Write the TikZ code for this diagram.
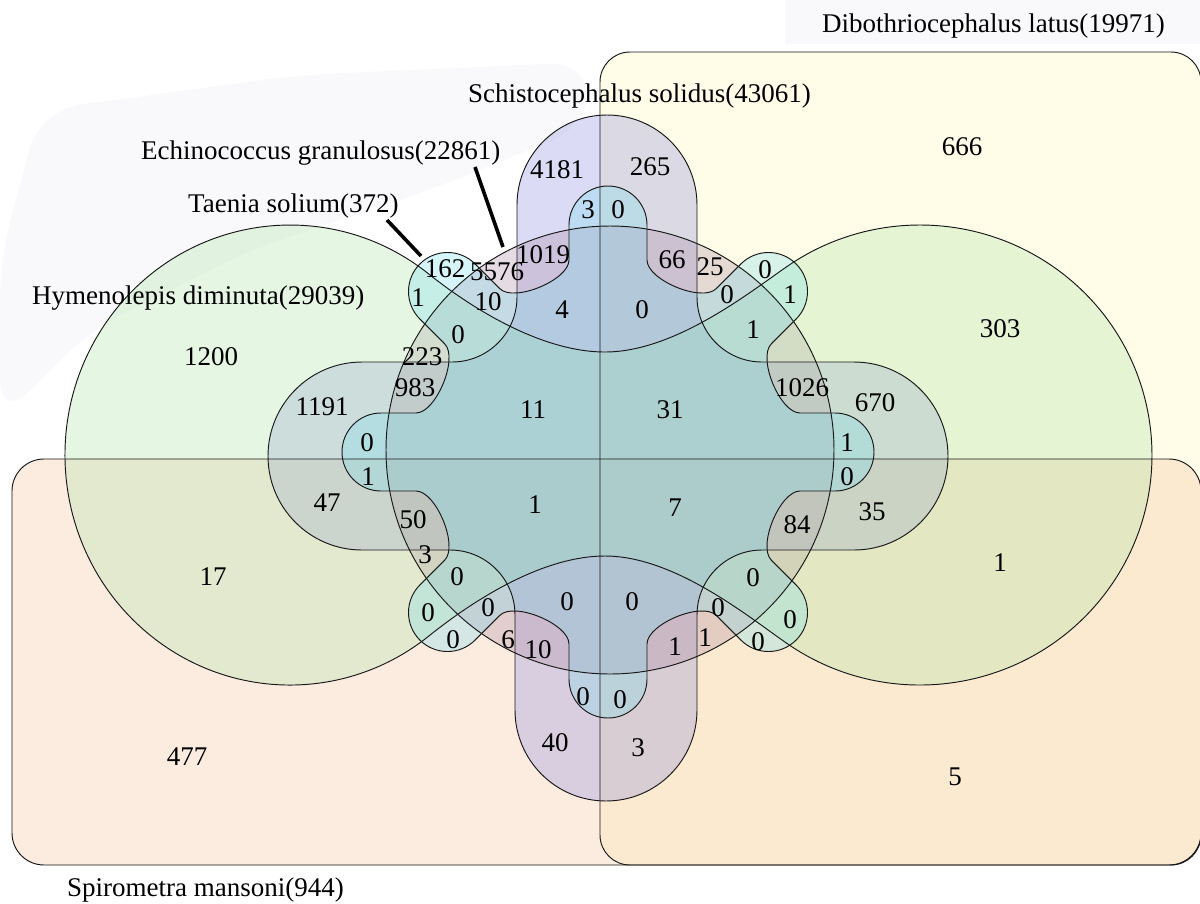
\documentclass[tikz,border=0pt]{standalone}
\usepackage{fontspec}
\setmainfont{Liberation Serif}
\definecolor{cA}{RGB}{255,248,182}
\definecolor{cB}{RGB}{248,195,153}
\definecolor{cC}{RGB}{172,138,165}
\definecolor{cD}{RGB}{172,228,165}
\definecolor{cE}{RGB}{138,138,222}
\definecolor{cF}{RGB}{122,222,238}
\definecolor{haze}{RGB}{249,249,251}
\def\pathD{(428.5,273.8) arc[start angle=-52, end angle=-308, x radius=225, y radius=230]
  .. controls (460,611) and (535,556) .. (605,556)
  .. controls (675,556) and (750,618) .. (786.9,643.4)
  arc[start angle=125, end angle=-125, x radius=232, y radius=230]
  .. controls (750,292) and (675,352) .. (605,352)
  .. controls (535,352) and (460,299) .. (428.5,273.8) -- cycle}
\def\pathE{(517,297) -- (517,205) arc[start angle=180, end angle=360, radius=90]
  -- (697,297) arc[start angle=180, end angle=90, radius=65]
  -- (854,362) arc[start angle=-90, end angle=90, radius=94]
  -- (762,550) arc[start angle=-90, end angle=-180, radius=65]
  -- (697,710) arc[start angle=0, end angle=180, radius=91]
  -- (515,615) arc[start angle=0, end angle=-90, radius=65]
  -- (362,550) arc[start angle=90, end angle=270, radius=94]
  -- (452,362) arc[start angle=90, end angle=0, radius=65] -- cycle}
\def\pathF{({608+192*cos(-90)+39*sin(-90)},{452+192*sin(-90)-39*cos(-90)})
  \foreach \p in {-90,-45,...,225} {
   -- ({608+227*cos(\p)+39*sin(\p)},{452+227*sin(\p)-39*cos(\p)})
   arc[start angle=\p-90, end angle=\p+90, radius=39]
   -- ({608+192*cos(\p)-39*sin(\p)},{452+192*sin(\p)+39*cos(\p)})
   .. controls ({608+172*cos(\p)-39*sin(\p)},{452+172*sin(\p)+39*cos(\p)})
   and ({608+172*cos(\p+45)+39*sin(\p+45)},{452+172*sin(\p+45)-39*cos(\p+45)})
   .. ({608+192*cos(\p+45)+39*sin(\p+45)},{452+192*sin(\p+45)-39*cos(\p+45)})
  } -- cycle}
\begin{document}
\begin{tikzpicture}[x=1pt,y=-1pt,line join=round,
  setfill/.style={fill opacity=0.3},
  outline/.style={draw=black!90,line width=0.95pt},
  num/.style={font=\fontsize{27}{30}\selectfont,inner sep=0pt},
  lab/.style={font=\fontsize{27}{30}\selectfont,inner sep=0pt,anchor=base west},
  pointer/.style={line width=3.6pt,draw=black}]
\useasboundingbox (0,0) rectangle (1200,903);
\fill[white] (0,0) rectangle (1200,903);
% faint haze of the original
\fill[haze,rounded corners=40pt] (40,110) -- (300,75) -- (590,62) -- (590,125) -- (430,190) -- (250,250) -- (90,330) -- (0,420) -- (0,260) -- cycle;
\fill[haze] (785,0) rectangle (1200,44);
% set fills
\fill[cA,setfill,rounded corners=30pt] (600,52) rectangle (1201,865);
\fill[cB,setfill,rounded corners=32pt] (12,459) rectangle (1201,865);
\fill[cE,setfill] \pathE;
\fill[cC,setfill] (610,450) circle[radius=224];
\fill[cD,setfill] \pathD;
\fill[cF,setfill] \pathF;
% outlines
\draw[outline,rounded corners=30pt] (600,52) rectangle (1201,865);
\draw[outline,rounded corners=32pt] (12,459) rectangle (1201,865);
\draw[outline] \pathD;
\draw[outline] \pathE;
\draw[outline] (610,450) circle[radius=224];
\draw[outline] \pathF;
% set labels
\node[lab] (lDib) at (822,32) {Dibothriocephalus latus(19971)};
\node[lab] (lSch) at (468,102) {Schistocephalus solidus(43061)};
\node[lab] (lEch) at (141,159) {Echinococcus granulosus(22861)};
\node[lab] (lTae) at (188,212) {Taenia solium(372)};
\node[lab] (lHym) at (32,304) {Hymenolepis diminuta(29039)};
\node[lab] (lSpi) at (67,896) {Spirometra mansoni(944)};
% pointers
\coordinate (tS) at (387,220);
\coordinate (tE) at (421,256);
\coordinate (eS) at (475,167);
\coordinate (eE) at (503,247);
\draw[pointer] (tS) -- (tE);
\draw[pointer] (eS) -- (eE);
% region counts
\foreach \x/\y/\t [count=\i] in {
 962/147/666, 557/170/4181, 650/167/265, 588/210/3, 618/210/0,
 543/255/1019, 497/272/5576, 445/269/162, 672/260/66, 710/267/25,
 765/270/0, 727/295/0, 790/295/1, 418/298/1, 488/302/10,
 562/310/4, 642/310/0, 458/335/0, 753/330/1, 1000/329/303,
 211/357/1200, 422/357/223, 415/388/983, 322/407/1191, 533/410/11,
 670/410/31, 802/388/1026, 875/403/670, 367/443/0, 847/443/1,
 368/477/1, 847/477/0, 327/503/47, 535/505/1, 675/508/7,
 872/512/35, 413/520/50, 797/525/84, 425/555/3, 213/577/17,
 1000/563/1, 457/577/0, 753/578/0, 428/613/0, 488/608/0,
 567/602/0, 632/602/0, 718/608/0, 790/620/0, 453/640/0,
 508/640/6, 538/650/10, 675/647/1, 705/638/1, 758/642/0,
 583/697/0, 620/700/0, 555/743/40, 638/748/3, 187/757/477,
 955/777/5}
 \node[num] (n\i) at (\x,\y) {\t};
\end{tikzpicture}
\end{document}
